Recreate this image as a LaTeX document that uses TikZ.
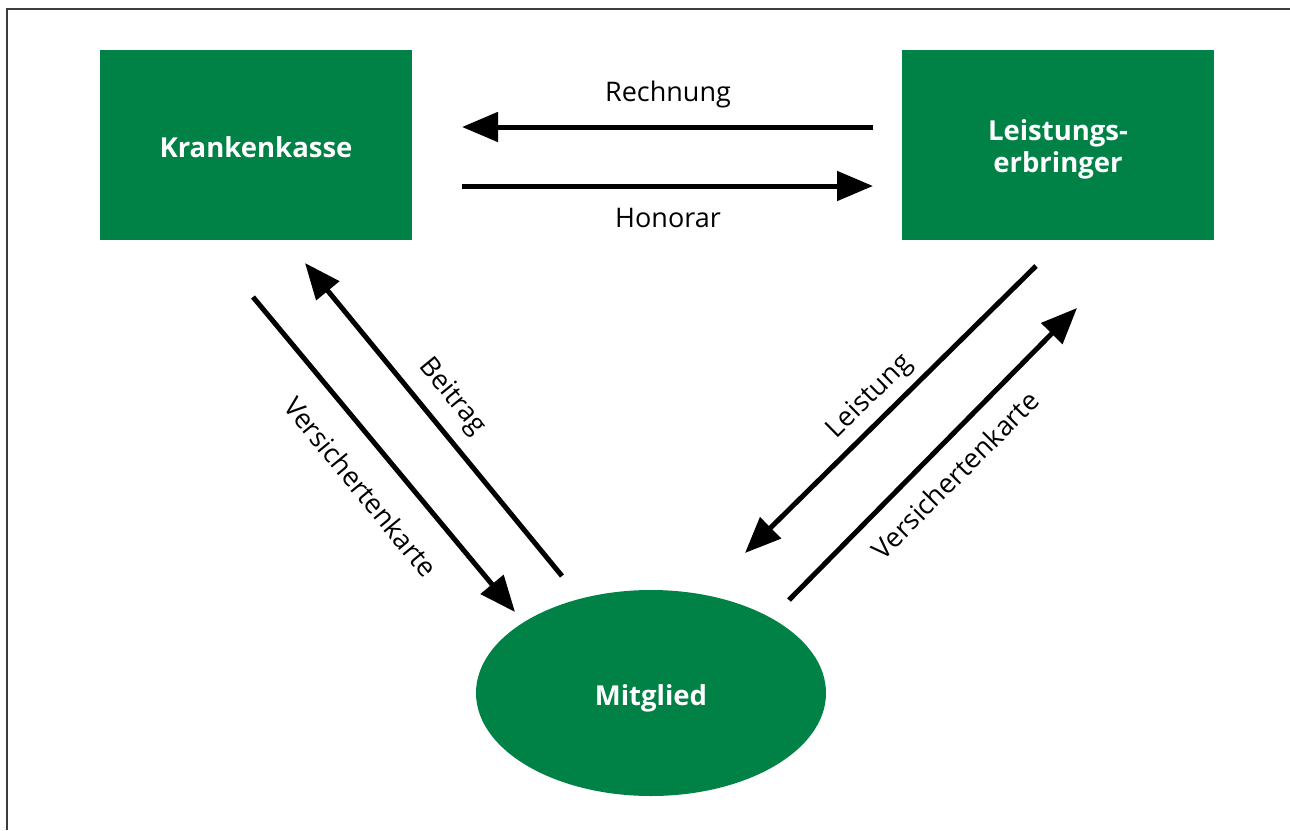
\documentclass[tikz,border=0pt]{standalone}
\usepackage{fontspec}
\setmainfont{Open Sans}
\usetikzlibrary{arrows.meta,shapes.geometric}
\definecolor{kassegreen}{RGB}{0,129,69}
\definecolor{framegray}{RGB}{60,60,60}
\tikzset{
  box/.style={draw=none, fill=kassegreen, text=white, font=\fontsize{27.5}{32}\selectfont\bfseries,
    minimum width=312pt, minimum height=190pt, align=center, inner sep=0pt},
  oval/.style={ellipse, fill=kassegreen, text=white, font=\fontsize{27.5}{32}\selectfont\bfseries,
    minimum width=350pt, minimum height=206pt, inner sep=0pt},
  flow/.style={line width=5pt, -{Triangle[length=36pt,width=29pt]}},
  lbl/.style={font=\fontsize{27}{32}\selectfont, inner sep=0pt},
  frame/.style={draw=framegray, line width=2.5pt}
}
\begin{document}
\begin{tikzpicture}[x=1pt,y=-1pt]
  \useasboundingbox (0,0) rectangle (1290,830);
  % open frame: top and left edges
  \draw[frame] (7,830) -- (7,9) -- (1290,9);

  % parties (the raisebox heights set where the baseline sits in the shape)
  \node[box] (kasse) at (256,145) {\raisebox{0pt}[24pt][0pt]{Krankenkasse}};
  \node[box] (erbringer) at (1058,145) {\raisebox{0pt}[54pt][0pt]{\shortstack{Leistungs-\\[1pt]erbringer}}};
  \node[oval] (mitglied) at (651,693) {\raisebox{0pt}[25pt][0pt]{Mitglied}};

  % end points of the flows
  \coordinate (rechA) at (873,127);
  \coordinate (rechB) at (462,127);
  \coordinate (honA) at (462,186);
  \coordinate (honB) at (873,186);
  \coordinate (beiA) at (562,576);
  \coordinate (beiB) at (305,263);
  \coordinate (vkA) at (253,297);
  \coordinate (vkB) at (515,612);
  \coordinate (leiA) at (1036,266);
  \coordinate (leiB) at (745,553);
  \coordinate (vkrA) at (789,600);
  \coordinate (vkrB) at (1077,308);

  % flows
  \draw[flow] (rechA) -- (rechB);
  \draw[flow] (honA) -- (honB);
  \draw[flow] (beiA) -- (beiB);
  \draw[flow] (vkA) -- (vkB);
  \draw[flow] (leiA) -- (leiB);
  \draw[flow] (vkrA) -- (vkrB);

  % flow labels
  \node[lbl] (rechL) at (668,94) {Rechnung};
  \node[lbl] (honL) at (668,218) {Honorar};
  \node[lbl, rotate=-50.6] (beiL) at (452,397) {Beitrag};
  \node[lbl, rotate=-50.6] (vkL) at (361,487) {Versichertenkarte};
  \node[lbl, rotate=44.6] (leiL) at (870,397) {Leistung};
  \node[lbl, rotate=45.2] (vkrL) at (955,475) {Versichertenkarte};
\end{tikzpicture}
\end{document}
